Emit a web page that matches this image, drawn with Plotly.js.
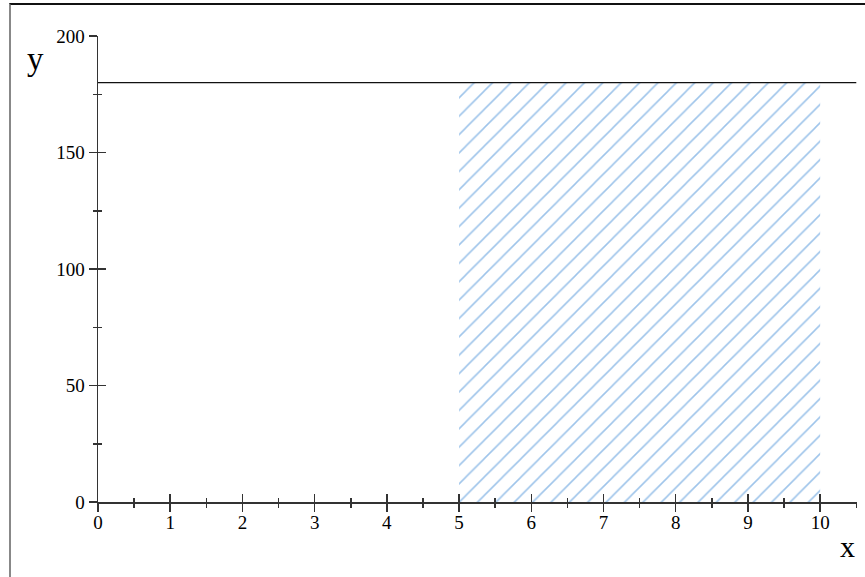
<!DOCTYPE html>
<html>
<head>
<meta charset="utf-8">
<script src="https://cdn.plot.ly/plotly-3.0.1.min.js"></script>
<style>
  html, body { margin: 0; padding: 0; background: #fff; }
  #wrap { position: relative; width: 865px; height: 577px; }
  #chart { width: 865px; height: 577px; }
  #frame { position: absolute; left: 9px; top: 3px; right: 0; bottom: 0;
           border-top: 2px solid #111; border-left: 2px solid #888; pointer-events: none; }
</style>
</head>
<body>
<div id="wrap">
  <div id="chart"></div>
  <div id="frame"></div>
</div>
<script>
// ---- data ----
const lineX = [0, 10.5];          // horizontal line y = 180
const lineY = [180, 180];
const regionX = [5, 5, 10, 10, 5]; // hatched region 5 <= x <= 10, 0 <= y <= 180
const regionY = [0, 180, 180, 0, 0];
const xTickVals = [0, 1, 2, 3, 4, 5, 6, 7, 8, 9, 10];
const yTickVals = [0, 50, 100, 150, 200];

const serif = '"Liberation Serif", "Times New Roman", serif';
const axisColor = '#333';

const traces = [
  {
    x: regionX, y: regionY, type: 'scatter', mode: 'lines',
    fill: 'toself', fillcolor: 'rgba(0,0,0,0)',
    fillpattern: { shape: '/', fgcolor: '#9ec4ea', bgcolor: 'rgba(255,255,255,0)', size: 13, solidity: 0.12 },
    line: { width: 0, color: 'rgba(0,0,0,0)' },
    hoverinfo: 'skip', showlegend: false
  },
  {
    x: lineX, y: lineY, type: 'scatter', mode: 'lines',
    line: { color: '#111', width: 1.2 },
    showlegend: false
  },
  {
    x: lineX, y: lineY, type: 'scatter', mode: 'lines',
    xaxis: 'x2', yaxis: 'y2',
    line: { color: 'rgba(0,0,0,0)', width: 0 },
    hoverinfo: 'skip', showlegend: false
  }
];

const common = {
  showgrid: false, zeroline: false, linecolor: axisColor, tickcolor: axisColor,
  tickfont: { family: serif, size: 19, color: '#000' }
};

const layout = {
  width: 865, height: 577,
  margin: { l: 98, r: 8, t: 36, b: 75, pad: 0 },
  paper_bgcolor: '#fff', plot_bgcolor: '#fff',
  showlegend: false,
  xaxis: Object.assign({}, common, {
    range: [0, 10.51], tickmode: 'array', tickvals: xTickVals,
    ticks: 'outside', ticklen: 8, tickwidth: 1.5, showline: true, linewidth: 1.5,
    ticklabelstandoff: -5,
    minor: { dtick: 0.5, tick0: 0, ticks: 'outside', ticklen: 4, tickwidth: 1.5, tickcolor: axisColor },
    anchor: 'y'
  }),
  yaxis: Object.assign({}, common, {
    range: [0, 200], tickmode: 'array', tickvals: yTickVals,
    ticks: 'outside', ticklen: 8, tickwidth: 1.5, showline: true, linewidth: 1.5,
    minor: { dtick: 25, tick0: 0, ticks: 'outside', ticklen: 4, tickwidth: 1.5, tickcolor: axisColor },
    anchor: 'x'
  }),
  xaxis2: {
    overlaying: 'x', anchor: 'y2', side: 'bottom', range: [0, 10.51],
    tickmode: 'array', tickvals: xTickVals, ticks: 'inside', ticklen: 8, tickwidth: 1.5, tickcolor: axisColor,
    minor: { dtick: 0.5, tick0: 0, ticks: 'inside', ticklen: 4, tickwidth: 1.5, tickcolor: axisColor },
    showticklabels: false, showline: false, showgrid: false, zeroline: false
  },
  yaxis2: {
    overlaying: 'y', anchor: 'x2', side: 'left', range: [0, 200],
    tickmode: 'array', tickvals: yTickVals, ticks: 'inside', ticklen: 8, tickwidth: 1.5, tickcolor: axisColor,
    minor: { dtick: 25, tick0: 0, ticks: 'inside', ticklen: 4, tickwidth: 1.5, tickcolor: axisColor },
    showticklabels: false, showline: false, showgrid: false, zeroline: false
  },
  annotations: [
    { text: 'y', xref: 'paper', yref: 'paper', x: -0.082, y: 0.95, xanchor: 'center', yanchor: 'middle',
      showarrow: false, font: { family: serif, size: 33, color: '#000' } },
    { text: 'x', xref: 'paper', yref: 'paper', x: 0.988, y: -0.095, xanchor: 'center', yanchor: 'middle',
      showarrow: false, font: { family: serif, size: 30, color: '#000' } }
  ]
};

Plotly.newPlot('chart', traces, layout, { displayModeBar: false, staticPlot: true });
</script>
</body>
</html>
